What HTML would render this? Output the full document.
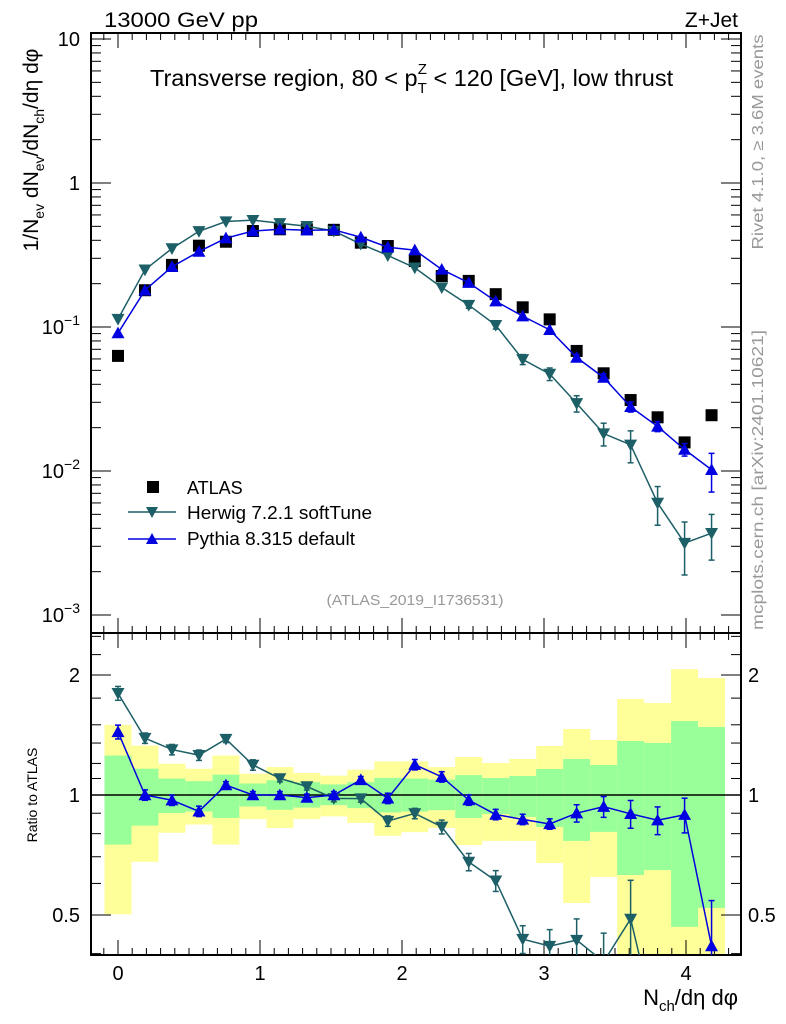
<!DOCTYPE html>
<html><head><meta charset="utf-8"><style>
html,body{margin:0;padding:0;background:#fff;overflow:hidden;width:786px;height:1024px;}
svg{display:block;font-family:"Liberation Sans",Arial,sans-serif;}
</style></head><body>
<svg id="chart" width="786" height="1024" viewBox="0 0 786 1024" xmlns="http://www.w3.org/2000/svg">
<rect width="786" height="1024" fill="#fff"/>
<g id="bands"></g>
<g id="axes"></g>
<g id="marks"></g>
<text x="104" y="27" font-size="21" textLength="154" lengthAdjust="spacingAndGlyphs">13000 GeV pp</text>
<text x="738" y="27" font-size="21" text-anchor="end">Z+Jet</text>
<text x="150" y="86" font-size="23.5">Transverse region, 80 &lt; p<tspan font-size="15" dy="7">T</tspan><tspan font-size="15" dx="-9" dy="-19">Z</tspan><tspan dy="12"> &lt; 120 [GeV], low thrust</tspan></text>
<text x="415" y="605" font-size="15" fill="#999" text-anchor="middle" textLength="177" lengthAdjust="spacingAndGlyphs">(ATLAS_2019_I1736531)</text>
<text transform="translate(38,150) rotate(-90)" font-size="21" text-anchor="middle">1/N<tspan font-size="14" dy="6">ev</tspan><tspan dy="-6"> dN</tspan><tspan font-size="14" dy="6">ev</tspan><tspan dy="-6">/dN</tspan><tspan font-size="14" dy="6">ch</tspan><tspan dy="-6">/dη dφ</tspan></text>
<text transform="translate(37,795) rotate(-90)" font-size="14" text-anchor="middle">Ratio to ATLAS</text>
<text x="738" y="1005" font-size="22" text-anchor="end">N<tspan font-size="15" dy="6">ch</tspan><tspan dy="-6">/dη dφ</tspan></text>
<text transform="translate(763,142) rotate(-90)" font-size="16" fill="#999" text-anchor="middle" textLength="215" lengthAdjust="spacingAndGlyphs">Rivet 4.1.0, ≥ 3.6M events</text>
<text transform="translate(763,480) rotate(-90)" font-size="16" fill="#999" text-anchor="middle" textLength="300" lengthAdjust="spacingAndGlyphs">mcplots.cern.ch [arXiv:2401.10621]</text>
<g>
<rect x="147" y="481" width="12" height="12" fill="#000"/>
<text x="187" y="494" font-size="18">ATLAS</text>
<line x1="128" y1="512" x2="176" y2="512" stroke="#1d5f66" stroke-width="1.5"/>
<path d="M146,507 L158,507 L152,518 Z" fill="#1d5f66"/>
<text x="187" y="519" font-size="18" textLength="185" lengthAdjust="spacingAndGlyphs">Herwig 7.2.1 softTune</text>
<line x1="128" y1="539" x2="176" y2="539" stroke="#0000e0" stroke-width="1.5"/>
<path d="M146,544 L158,544 L152,533 Z" fill="#0000e0"/>
<text x="187" y="545" font-size="18" textLength="168" lengthAdjust="spacingAndGlyphs">Pythia 8.315 default</text>
</g>
</svg>
<script>
const xVals=[0,0.19,0.38,0.57,0.76,0.95,1.14,1.33,1.52,1.71,1.9,2.09,2.28,2.47,2.66,2.85,3.04,3.23,3.42,3.61,3.8,3.99,4.18];
const atlas=[0.063,0.18,0.27,0.367,0.391,0.464,0.477,0.477,0.473,0.385,0.365,0.287,0.226,0.209,0.169,0.137,0.113,0.0682,0.0477,0.0311,0.0236,0.0158,0.0244];
const herwig=[0.1134,0.250,0.351,0.462,0.540,0.552,0.525,0.501,0.464,0.377,0.314,0.258,0.188,0.142,0.103,0.0596,0.0472,0.0295,0.0182,0.0152,0.0060,0.00316,0.0037];
const pythia=[0.0907,0.18,0.262,0.334,0.414,0.464,0.477,0.470,0.473,0.42,0.358,0.342,0.251,0.203,0.151,0.119,0.0956,0.0614,0.0446,0.0279,0.0204,0.0141,0.0102];
const herwigRelErr=[0.04,0.03,0.03,0.03,0.02,0.03,0.02,0.02,0.02,0.02,0.03,0.03,0.04,0.05,0.06,0.08,0.1,0.13,0.18,0.25,0.3,0.4,0.35];
const pythiaRelErr=[0.04,0.03,0.03,0.03,0.02,0.02,0.02,0.02,0.02,0.02,0.03,0.03,0.03,0.03,0.03,0.03,0.03,0.05,0.06,0.08,0.08,0.1,0.3];
const bandYellowHi=[1.50,1.33,1.198,1.164,1.256,1.131,1.175,1.136,1.118,1.157,1.214,1.214,1.175,1.245,1.203,1.231,1.327,1.464,1.374,1.741,1.701,2.069,1.965];
const bandGreenHi=[1.256,1.164,1.10,1.083,1.125,1.069,1.089,1.077,1.063,1.077,1.104,1.10,1.093,1.122,1.103,1.116,1.162,1.231,1.189,1.366,1.351,1.533,1.481];
const bandGreenLo=[0.751,0.838,0.901,0.909,0.876,0.936,0.918,0.93,0.943,0.927,0.904,0.909,0.916,0.876,0.896,0.881,0.831,0.767,0.808,0.630,0.648,0.467,0.521];
const bandYellowLo=[0.502,0.68,0.804,0.843,0.751,0.87,0.827,0.87,0.884,0.851,0.79,0.807,0.827,0.749,0.767,0.767,0.675,0.536,0.623,0.35,0.35,0.35,0.35];
const xTicks=[0,1,2,3,4];
const mainTicks=[1,0,-1,-2,-3];
const ratioTicks=[2,1,0.5];

const NS="http://www.w3.org/2000/svg";
const L=91,R=741,T=33,MB=633,RB=955;
const X=v=>118+142*v;
const Ym=v=>183-144*Math.log10(v);
const Yr=v=>795-120*Math.log2(v);
function mk(parent,tag,attrs){const e=document.createElementNS(NS,tag);for(const k in attrs)e.setAttribute(k,attrs[k]);parent.appendChild(e);return e;}
const axes=document.getElementById('axes'),marks=document.getElementById('marks'),bands=document.getElementById('bands');

const hw=0.095;
for(let i=0;i<xVals.length;i++){
  const x1=X(xVals[i]-hw),x2=X(xVals[i]+hw);
  const yt=Math.max(MB,Yr(bandYellowHi[i])),yb=Math.min(RB,Yr(bandYellowLo[i]));
  const y=mk(bands,'rect',{x:x1,y:yt,width:x2-x1,height:yb-yt,fill:'#ffff99'});
  
  
  const gt=Yr(bandGreenHi[i]),gb=Math.min(RB,Yr(bandGreenLo[i]));
  const g=mk(bands,'rect',{x:x1,y:gt,width:x2-x1,height:gb-gt,fill:'#99ff99'});
  
  
}
const f1=mk(axes,'rect',{x:L,y:T,width:R-L,height:MB-T,fill:'none',stroke:'#000','stroke-width':2});


const f2=mk(axes,'rect',{x:L,y:MB,width:R-L,height:RB-MB,fill:'none',stroke:'#000','stroke-width':2});


const ref=mk(axes,'line',{x1:L,y1:Yr(1),x2:R,y2:Yr(1),stroke:'#000','stroke-width':1.5});


for(let v=-0.1;v<=4.35;v+=0.1){
  const vv=Math.round(v*10)/10;const major=Math.abs(vv-Math.round(vv))<1e-6;const len=major?15:7;const x=X(vv);
  if(x<L||x>R)continue;
  for(const [y0,d] of [[T,1],[MB,-1],[MB,1],[RB,-1]]) mk(axes,'line',{x1:x,y1:y0,x2:x,y2:y0+d*len,stroke:'#000','stroke-width':1});
}
xTicks.forEach(v=>{const t=mk(axes,'text',{x:X(v),y:980,'font-size':20,'text-anchor':'middle'});t.textContent=v;
  
  });
for(let d=-3;d<=1;d++){for(let m=1;m<=9;m++){const v=m*Math.pow(10,d);const y=Ym(v);if(y<T-0.5||y>MB)continue;const len=m==1?20:10;
  mk(axes,'line',{x1:L,y1:y,x2:L+len,y2:y,stroke:'#000'});mk(axes,'line',{x1:R,y1:y,x2:R-len,y2:y,stroke:'#000'});}}
mainTicks.forEach(p=>{const y=Ym(Math.pow(10,p))+7;const t=mk(axes,'text',{x:80,y:y,'font-size':20,'text-anchor':'end'});
  
  
  if(p==1)t.textContent='10';else if(p==0)t.textContent='1';else{t.textContent='10';const s=mk(t,'tspan',{dy:-9,'font-size':14});s.textContent='−'+(-p);}});
[0.4,0.6,0.7,0.8,0.9,1.1,1.2,1.35,1.5,1.75,2.25,2.5].forEach(v=>{const y=Yr(v);if(y<MB||y>RB)return;mk(axes,'line',{x1:L,y1:y,x2:L+10,y2:y,stroke:'#000'});mk(axes,'line',{x1:R,y1:y,x2:R-10,y2:y,stroke:'#000'});});
ratioTicks.forEach(v=>{const y=Yr(v);mk(axes,'line',{x1:L,y1:y,x2:L+20,y2:y,stroke:'#000'});mk(axes,'line',{x1:R,y1:y,x2:R-20,y2:y,stroke:'#000'});
  const t=mk(axes,'text',{x:80,y:y+7,'font-size':20,'text-anchor':'end'});t.textContent=v;
  
  
  const t2=mk(axes,'text',{x:748,y:y+7,'font-size':20});t2.textContent=v;
  
  });

const defs=mk(document.getElementById('chart'),'defs',{});
const c1=mk(defs,'clipPath',{id:'cm'});mk(c1,'rect',{x:L,y:T,width:R-L,height:MB-T});
const c2=mk(defs,'clipPath',{id:'cr'});mk(c2,'rect',{x:L,y:MB,width:R-L,height:RB-MB});
const gm=mk(marks,'g',{'clip-path':'url(#cm)'}),gr=mk(marks,'g',{'clip-path':'url(#cr)'});

function tri(g,x,y,down,col,name){const s=6.5;const d=down?`M${x-s},${y-s*0.8} L${x+s},${y-s*0.8} L${x},${y+s} Z`:`M${x-s},${y+s*0.8} L${x+s},${y+s*0.8} L${x},${y-s} Z`;
  const p=mk(g,'path',{d:d,fill:col});
  
  }
function series(vals,rel,col,down,key){
  let pts=vals.map((v,i)=>X(xVals[i])+','+Ym(v)).join(' ');
  const pl=mk(gm,'polyline',{points:pts,fill:'none',stroke:col,'stroke-width':1.5});
  
  
  const ratio=vals.map((v,i)=>v/atlas[i]);
  pts=ratio.map((r,i)=>X(xVals[i])+','+Yr(r)).join(' ');
  const pr=mk(gr,'polyline',{points:pts,fill:'none',stroke:col,'stroke-width':1.5});
  
  
  vals.forEach((v,i)=>{const x=X(xVals[i]);
    const e=rel[i];
    [[gm,Ym(v*(1+e)),Ym(v*(1-e)),Ym(v)],[gr,Yr(ratio[i]*(1+e)),Yr(ratio[i]*(1-e)),Yr(ratio[i])]].forEach(([g,a,b,c])=>{
      if(b-a>6){mk(g,'line',{x1:x,y1:a,x2:x,y2:b,stroke:col,'stroke-width':1.5});mk(g,'line',{x1:x-3,y1:a,x2:x+3,y2:a,stroke:col,'stroke-width':1.5});mk(g,'line',{x1:x-3,y1:b,x2:x+3,y2:b,stroke:col,'stroke-width':1.5});}
      tri(g,x,c,down,col,key+'-point');});
  });
}
atlas.forEach((v,i)=>{const r=mk(gm,'rect',{x:X(xVals[i])-6,y:Ym(v)-6,width:12,height:12,fill:'#000'});
  
  });
series(herwig,herwigRelErr,'#1d5f66',true,'herwig');
series(pythia,pythiaRelErr,'#0000e0',false,'pythia');
</script>
</body></html>
